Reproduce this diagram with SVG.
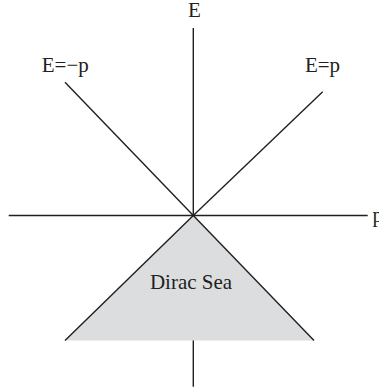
<svg xmlns="http://www.w3.org/2000/svg" width="379" height="391" viewBox="0 0 379 391">
<style>
.ln{stroke:#231f20;stroke-width:1.4;fill:none}
.t{font-family:"Liberation Serif","Times New Roman",serif;font-size:21px;fill:#231f20}
</style>
<rect width="379" height="391" fill="#fff"/>
<g id="axes">
<line class="ln" x1="193.3" y1="28" x2="193.3" y2="386.7"/>
<line class="ln" x1="8.7" y1="215.5" x2="367.7" y2="215.5"/>
</g>
<g id="dirac-sea">
<polygon points="193.3,215.5 314,340.5 65,340.5" fill="#dcdddf" stroke="none"/>
<polyline class="ln" points="65,340.5 193.3,215.5 314,340.5"/>
</g>
<g id="light-cone">
<line class="ln" x1="193.3" y1="215.5" x2="322.7" y2="91.7"/>
<line class="ln" x1="193.3" y1="215.5" x2="65" y2="82.3"/>
</g>
<g id="labels">
<text class="t" x="194.5" y="17.3" text-anchor="middle">E</text>
<text class="t" x="65.3" y="72.2" text-anchor="middle">E=−p</text>
<text class="t" x="322.5" y="72.2" text-anchor="middle">E=p</text>
<text class="t" x="372.5" y="222">p</text>
<text class="t" x="191" y="289" text-anchor="middle">Dirac Sea</text>
</g>
</svg>
